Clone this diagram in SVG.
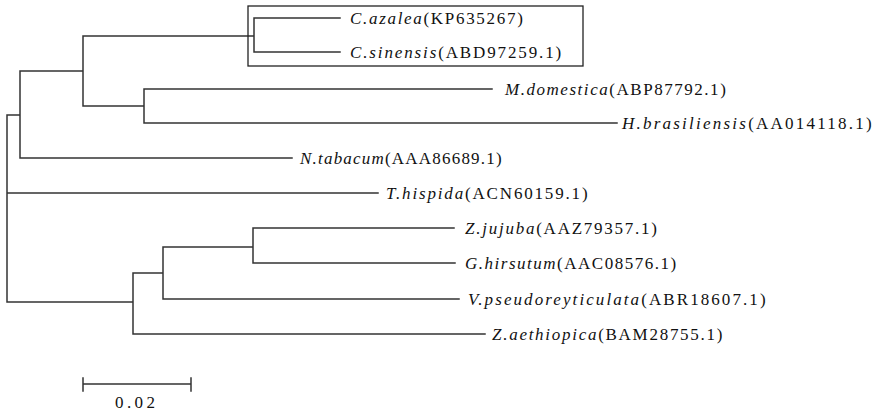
<svg xmlns="http://www.w3.org/2000/svg" width="876" height="415" viewBox="0 0 876 415">
<style>
.br{fill:none;stroke:#333;stroke-width:1.5;stroke-linecap:square}
.lb{font-family:"Liberation Serif","DejaVu Serif",serif;font-size:17px;fill:#111}
.sp{font-style:italic}
</style>
<rect width="876" height="415" fill="#fff"/>
<g id="connectors">
<path class="br" d="M7,115 V302 M7,115 H20 M20,71 V158 M20,71 H83 M83,36 V106 M83,36 H254 M254,18 V52 M254,18 H340 M254,52 H340 M83,106 H144 M144,89 V123 M144,89 H492 M144,123 H617 M20,158 H292 M7,193 H378 M7,302 H133 M133,273 V334 M133,273 H163 M163,247 V299 M163,247 H253 M253,228 V263 M253,228 H454 M253,263 H455 M163,299 H459 M133,334 H485"/>
</g>
<g id="highlight-box"><rect x="248" y="6" width="335" height="60" fill="none" stroke="#222" stroke-width="1.3"/></g>
<g id="n1"><text class="lb" x="350" y="24" textLength="172.8" lengthAdjust="spacing"><tspan class="sp">C.azalea</tspan>(KP635267)</text></g>
<g id="n2"><text class="lb" x="350" y="58" textLength="211.2" lengthAdjust="spacing"><tspan class="sp">C.sinensis</tspan>(ABD97259.1)</text></g>
<g id="n3"><text class="lb" x="505" y="95" textLength="220.8" lengthAdjust="spacing"><tspan class="sp">M.domestica</tspan>(ABP87792.1)</text></g>
<g id="n4"><text class="lb" x="622" y="129" textLength="249.6" lengthAdjust="spacing"><tspan class="sp">H.brasiliensis</tspan>(AA014118.1)</text></g>
<g id="n5"><text class="lb" x="300" y="164" textLength="201.6" lengthAdjust="spacing"><tspan class="sp">N.tabacum</tspan>(AAA86689.1)</text></g>
<g id="n6"><text class="lb" x="386" y="199" textLength="201.6" lengthAdjust="spacing"><tspan class="sp">T.hispida</tspan>(ACN60159.1)</text></g>
<g id="n7"><text class="lb" x="465" y="234" textLength="192" lengthAdjust="spacing"><tspan class="sp">Z.jujuba</tspan>(AAZ79357.1)</text></g>
<g id="n8"><text class="lb" x="465" y="269" textLength="211.2" lengthAdjust="spacing"><tspan class="sp">G.hirsutum</tspan>(AAC08576.1)</text></g>
<g id="n9"><text class="lb" x="468" y="305" textLength="297.6" lengthAdjust="spacing"><tspan class="sp">V.pseudoreyticulata</tspan>(ABR18607.1)</text></g>
<g id="n10"><text class="lb" x="492" y="340" textLength="230.4" lengthAdjust="spacing"><tspan class="sp">Z.aethiopica</tspan>(BAM28755.1)</text></g>
<g id="scale">
<path class="br" d="M83,384 H191 M83,378 V391 M191,378 V391"/>
<text class="lb" x="135" y="408" text-anchor="middle" textLength="40" lengthAdjust="spacing">0.02</text>
</g>
</svg>
